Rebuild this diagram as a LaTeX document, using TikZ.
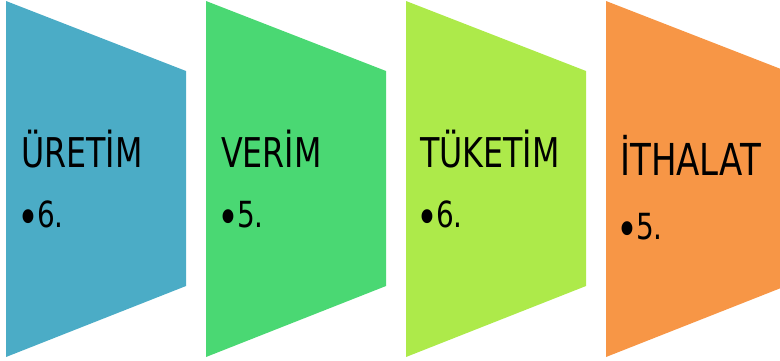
\documentclass[tikz,border=0pt]{standalone}
\usepackage{fontspec}
\setmainfont{DejaVu Sans Condensed}[FakeStretch=0.86]
\definecolor{cblue}{RGB}{75,172,198}
\definecolor{cgreen}{RGB}{74,216,115}
\definecolor{clime}{RGB}{173,234,74}
\definecolor{corange}{RGB}{247,150,70}
\newcommand\mybul{\kern-4pt\raisebox{-7pt}{\fontsize{48}{48}\selectfont •}\kern-2pt}
\tikzset{
  seg/.style={fill=#1, draw=none},
  ttl/.style={anchor=base west, inner sep=0pt, font=\fontsize{41}{44}\selectfont},
  itm/.style={anchor=base west, inner sep=0pt, font=\fontsize{36}{40}\selectfont}
}
\begin{document}
\begin{tikzpicture}[x=1pt,y=-1pt]
\useasboundingbox (0,0) rectangle (780,360);
\clip (0,0) rectangle (780,360);
\fill[seg=cblue]   (6,1) -- (186,71) -- (186,286) -- (6,357) -- cycle;
\fill[seg=cgreen]  (206,1) -- (386,71) -- (386,286) -- (206,357) -- cycle;
\fill[seg=clime]   (406,1) -- (586,71) -- (586,286) -- (406,357) -- cycle;
\fill[seg=corange] (606,1) -- (786,71) -- (786,286) -- (606,357) -- cycle;
\node[ttl] (t1) at (21,167) {ÜRETİM};
\node[itm] (b1) at (21,227) {\mybul6.};
\node[ttl] (t2) at (221,167) {VERİM};
\node[itm] (b2) at (221,227) {\mybul5.};
\node[ttl] (t3) at (420,167) {TÜKETİM};
\node[itm] (b3) at (420,227) {\mybul6.};
\node[ttl,font=\fontsize{44}{48}\selectfont] (t4) at (620,175) {İTHALAT};
\node[itm] (b4) at (620,239) {\mybul5.};
\end{tikzpicture}
\end{document}
